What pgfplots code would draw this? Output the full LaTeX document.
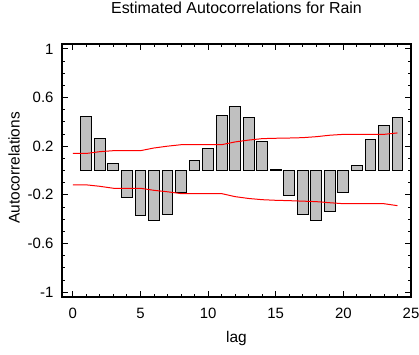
\documentclass[border=0pt]{standalone}
\usepackage{pgfplots}
\pgfplotsset{compat=1.18}
\usepackage{fontspec}
\setmainfont{Liberation Sans}
\definecolor{bargray}{RGB}{192,192,192}
\begin{document}
\begin{tikzpicture}
\useasboundingbox (-62bp,-58bp) rectangle (357bp,297bp);
\begin{axis}[
  at={(0,0)}, anchor=south west,
  scale only axis, width=349bp, height=253bp,
  xmin=-0.8, xmax=25, ymin=-1.04, ymax=1.04,
  xtick={0,5,...,25}, minor x tick num=4,
  ytick={-1,-0.6,-0.2,0.2,0.6,1}, minor y tick num=3,
  yticklabels={-1,-0.6,-0.2,0.2,0.6,1},
  tick align=inside,
  major tick length=6bp, minor tick length=3bp,
  axis line style={line width=1.1pt},
  every tick/.style={black, line width=0.9pt},
  /pgf/number format/assume math mode=true,
  tick label style={font=\fontsize{15}{17}\selectfont},
  xticklabel style={anchor=center, yshift=-16bp},
  yticklabel style={anchor=east, xshift=-5bp},
  xlabel={lag}, ylabel={Autocorrelations},
  label style={font=\fontsize{15.5}{18}\selectfont},
  xlabel style={at={(axis description cs:0.5,0)}, anchor=center, yshift=-42bp},
  ylabel style={at={(axis description cs:-0.137,0.51)}, anchor=center},
  title={Estimated Autocorrelations for Rain},
  title style={font=\fontsize{16}{18}\selectfont, anchor=center, at={(0.5,1)}, yshift=30bp},
]
\addplot[ybar, bar width=0.8, fill=bargray, draw=black, line width=1pt] coordinates {
(1,0.44) (2,0.264) (3,0.058) (4,-0.218) (5,-0.372) (6,-0.413) (7,-0.361) (8,-0.182)
(9,0.083) (10,0.179) (11,0.455) (12,0.526) (13,0.438) (14,0.237) (15,0.006)
(16,-0.204) (17,-0.361) (18,-0.41) (19,-0.339) (20,-0.182) (21,0.044) (22,0.251)
(23,0.369) (24,0.438)
};
\addplot[red, line width=1pt, sharp plot] coordinates {
(0,0.14) (1,0.14) (2,0.155) (3,0.163) (4,0.163) (5,0.163) (6,0.185) (7,0.2) (8,0.212)
(9,0.212) (10,0.212) (11,0.212) (12,0.235) (13,0.25) (14,0.262) (15,0.265) (16,0.267)
(17,0.27) (18,0.278) (19,0.29) (20,0.297) (21,0.297) (22,0.297) (23,0.297) (24,0.309)
};
\addplot[red, line width=1pt, sharp plot] coordinates {
(0,-0.118) (1,-0.118) (2,-0.13) (3,-0.146) (4,-0.146) (5,-0.146) (6,-0.163) (7,-0.175)
(8,-0.19) (9,-0.19) (10,-0.19) (11,-0.19) (12,-0.215) (13,-0.23) (14,-0.24) (15,-0.245)
(16,-0.248) (17,-0.252) (18,-0.256) (19,-0.265) (20,-0.273) (21,-0.273) (22,-0.273)
(23,-0.273) (24,-0.289)
};
\end{axis}
\end{tikzpicture}
\end{document}
